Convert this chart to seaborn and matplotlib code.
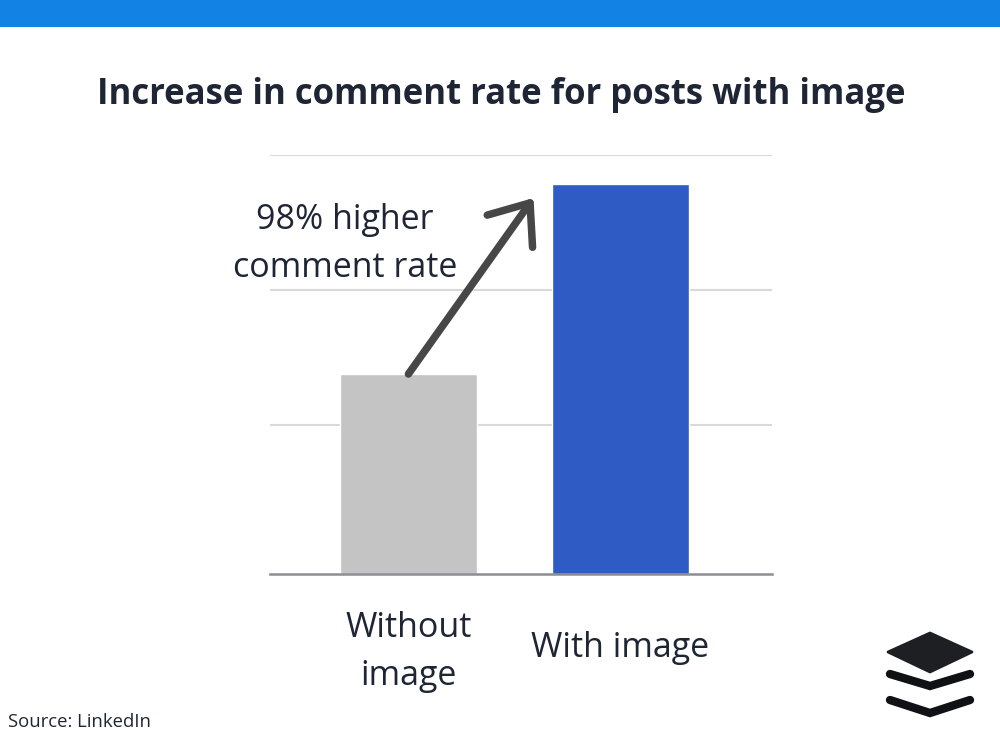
import matplotlib
matplotlib.use("Agg")
import matplotlib.pyplot as plt
from matplotlib.patches import Polygon, Rectangle
import seaborn as sns
import pandas as pd

categories = ["Without\nimage", "With image"]
values = [1.0, 1.95]
bar_colors = ["#c4c4c4", "#2e5bc4"]
title = "Increase in comment rate for posts with image"
note = "98% higher\ncomment rate"
source = "Source: LinkedIn"

sns.set_theme(style="white")
plt.rcParams["font.family"] = ["Open Sans", "DejaVu Sans"]
text_color = "#1e2535"

fig = plt.figure(figsize=(10, 7.42), dpi=100)

# background / decoration layer in pixel coords
bg = fig.add_axes([0, 0, 1, 1], zorder=0)
bg.set_xlim(0, 1000)
bg.set_ylim(742, 0)
bg.axis("off")
bg.add_patch(Rectangle((0, 0), 1000, 27, color="#1283e5", lw=0))
# buffer logo
bg.add_patch(Polygon([(888, 652), (930, 633), (972, 652), (930, 672)],
                     closed=True, color="#1d1f22", joinstyle="round", lw=2))
bg.plot([890, 930, 970], [674, 686, 674], color="#0f1114", lw=6,
        solid_capstyle="round", solid_joinstyle="miter")
bg.plot([890, 930, 970], [700, 713, 700], color="#0f1114", lw=6,
        solid_capstyle="round", solid_joinstyle="miter")

df = pd.DataFrame({"cat": categories, "val": values})

ax = fig.add_axes([0.27, 1 - 574 / 742, 0.502, (574 - 155) / 742], zorder=1)
ax.patch.set_alpha(0)
sns.barplot(data=df, x="cat", y="val", hue="cat", palette=bar_colors,
            width=0.646, legend=False, ax=ax, saturation=1, zorder=2)

ax.set_xlim(-0.653, 1.715)
ax.set_ylim(0, 2.095)
ax.set_yticks([0.745, 1.42, 2.095])
ax.yaxis.grid(True, color="#d9d9d9", lw=1.5)
ax.set_axisbelow(True)
ax.tick_params(axis="y", left=False, labelleft=False)
ax.tick_params(axis="x", bottom=False, length=0, labelsize=24.5,
               colors=text_color, pad=53)
for lbl in ax.get_xticklabels():
    lbl.set_verticalalignment("center")
    lbl.set_linespacing(1.52)
# nudge the two-line label a bit lower
ax.get_xticklabels()[0].set_y(-0.01)
for s in ["top", "right", "left"]:
    ax.spines[s].set_visible(False)
ax.spines["bottom"].set_color("#8a8d93")
ax.spines["bottom"].set_linewidth(1.8)
ax.set_xlabel("")
ax.set_ylabel("")

ax.annotate("", xy=(0.59, values[1] - 0.07), xytext=(0, values[0]),
            arrowprops=dict(arrowstyle="->,head_length=0.5,head_width=0.4",
                            color="#474747", lw=5.4, mutation_scale=50,
                            shrinkA=0, shrinkB=0))

fig.text(0.345, 1 - 244 / 742, note, ha="center", va="center", fontsize=24.5,
         color=text_color, linespacing=1.55, multialignment="center")
fig.text(0.501, 1 - 95 / 742, title, ha="center", va="center", fontsize=25,
         fontweight="bold", color=text_color)
fig.text(0.008, 1 - 722 / 742, source, ha="left", va="center", fontsize=13.3,
         color=text_color)

fig.savefig("out.png", dpi=100)
